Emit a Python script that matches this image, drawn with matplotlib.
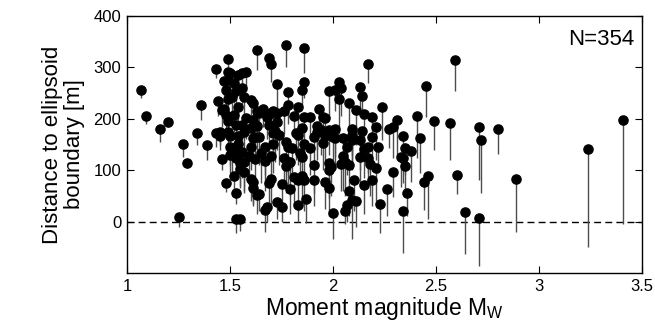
import matplotlib
matplotlib.use("Agg")
import matplotlib.pyplot as plt

plt.rcParams['font.family'] = ['Liberation Sans', 'DejaVu Sans']

# Moment magnitude, distance to ellipsoid boundary, lower end of each stem
mw = [1.07, 1.09, 1.16, 1.20, 1.25, 1.27, 1.29, 1.34, 1.36, 1.39, 1.43, 1.43, 1.44, 1.46, 1.48,
      1.49, 1.49, 1.53, 1.52, 1.53, 1.55, 1.63, 1.69, 1.70, 1.77, 1.86, 2.17, 1.73, 1.78, 1.85,
      1.86, 1.98, 2.01, 2.03, 2.04, 2.03, 2.08, 2.13, 2.14, 2.11, 2.24, 2.15, 2.19, 2.21, 2.27,
      2.00, 2.06, 2.07, 2.09, 2.11, 2.08, 2.10, 2.15, 2.19, 2.21, 2.23, 2.26, 2.18, 2.13, 2.08,
      2.05, 2.07, 2.13, 2.15, 2.17, 2.14, 2.09, 2.09, 2.01, 1.98, 2.01, 1.95, 1.93, 1.89, 1.86,
      1.81, 1.83, 1.78, 1.76, 1.71, 1.66, 1.63, 1.61, 1.60, 1.57, 1.56, 1.53, 1.47, 1.49, 1.52,
      1.54, 1.56, 1.58, 1.49, 1.47, 1.48, 1.52, 1.54, 1.49, 1.53, 1.56, 1.58, 1.61, 1.63, 1.60,
      1.57, 1.50, 1.54, 1.49, 1.54, 1.51, 1.54, 1.56, 1.60, 1.64, 1.61, 1.59, 1.53, 1.55, 1.57,
      1.62, 1.60, 1.61, 1.61, 1.63, 1.64, 1.67, 1.68, 1.67, 1.65, 1.67, 1.69, 1.70, 1.70, 1.71,
      1.71, 1.73, 1.69, 1.72, 1.74, 1.75, 1.73, 1.75, 1.77, 1.76, 1.77, 1.78, 1.79, 1.78, 1.80,
      1.79, 1.81, 1.83, 1.83, 1.85, 1.86, 1.87, 1.84, 1.85, 1.82, 1.85, 1.83, 1.86, 1.89, 1.91,
      1.91, 1.92, 1.92, 1.91, 1.95, 1.96, 1.96, 1.98, 1.98, 1.99, 1.98, 2.04, 2.06, 2.05, 2.00,
      1.94, 1.96, 2.19, 2.22, 2.17, 2.09, 1.64, 1.68, 1.62, 1.73, 1.70, 1.45, 1.45, 1.50, 1.50,
      1.55, 1.57, 1.46, 1.48, 1.51, 1.50,
      2.59, 2.45, 2.29, 2.31, 2.41, 2.49, 2.57, 2.71, 2.72, 2.80, 3.24, 3.41, 2.89, 2.64, 2.71,
      2.60, 2.34, 2.35, 2.38, 2.42, 2.33, 2.34, 2.35, 2.29, 2.36, 2.34, 2.44, 2.46]

dist = [256, 206, 180, 193, 9, 151, 114, 172, 227, 149, 297, 172, 235, 121, 75,
        317, 291, 56, 89, 5, 5, 334, 318, 307, 343, 338, 307, 268, 252, 257,
        272, 254, 257, 272, 260, 239, 230, 261, 245, 218, 222, 209, 204, 185, 181,
        16, 21, 33, 42, 40, 60, 81, 72, 81, 104, 34, 63, 113, 125, 111,
        128, 146, 159, 142, 146, 176, 181, 169, 181, 178, 163, 203, 219, 203, 203,
        205, 223, 227, 215, 215, 220, 215, 230, 237, 242, 259, 254, 273, 275, 269,
        285, 290, 291, 238, 220, 207, 207, 222, 196, 188, 188, 201, 198, 186, 182,
        175, 166, 166, 175, 151, 136, 134, 136, 146, 165, 162, 128, 124, 114, 116,
        122, 83, 77, 65, 52, 53, 23, 29, 146, 133, 118, 75, 83, 128, 151,
        173, 194, 188, 176, 169, 73, 38, 28, 155, 124, 108, 116, 116, 146, 143,
        63, 87, 32, 81, 89, 81, 44, 133, 126, 172, 182, 169, 151, 143, 110,
        81, 186, 174, 165, 153, 166, 77, 65, 114, 106, 100, 112, 116, 163, 165,
        178, 201, 165, 146, 124, 159, 211, 204, 165, 211, 211, 175, 166, 146, 130,
        102, 97, 217, 256, 243, 289,
        314, 264, 184, 198, 206, 196, 192, 184, 159, 180, 141, 197, 82, 18, 7,
        90, 166, 143, 138, 163, 125, 124, 108, 97, 55, 21, 77, 89]

lower = [240, 190, 155, 184, -11, 126, 104, 149, 198, 120, 279, 145, 205, 100, 58,
         301, 270, 35, 62, -23, -18, 295, 300, 272, 301, 289, 269, 215, 210, 225,
         240, 200, 215, 235, 205, 170, 180, 215, 200, 150, 159, 160, 150, 120, 143,
         -33, -5, 0, -33, -10, 10, 20, 15, 30, 40, -23, 10, 50, 70, 55,
         60, 90, 100, 85, 95, 120, 130, 105, 125, 130, 110, 150, 175, 160, 150,
         165, 180, 190, 170, 175, 185, 170, 195, 200, 200, 225, 215, 245, 240, 230,
         250, 260, 255, 200, 190, 170, 165, 180, 160, 140, 150, 160, 150, 140, 130,
         125, 120, 115, 140, 100, 95, 90, 85, 100, 110, 115, 80, 85, 70, 60,
         75, 40, 35, 30, 15, 20, -20, 0, 90, 75, 60, 20, 35, 70, 95,
         120, 140, 130, 115, 110, 25, 5, 0, 100, 70, 55, 60, 50, 90, 80,
         15, 35, 0, 30, 40, 20, -3, 80, 70, 120, 135, 110, 95, 90, 55,
         30, 140, 120, 105, 100, 110, 25, 10, 60, 50, 45, 60, 50, 110, 120,
         130, 150, 110, 95, 70, 100, 165, 160, 125, 165, 170, 150, 140, 110, 95,
         65, 55, 185, 220, 210, 260,
         255, 203, 124, 130, 123, 139, 120, 81, 55, 131, -49, -5, -20, -63, -86,
         53, 110, 90, 77, 94, 68, 75, 55, 48, 10, -62, 22, 6]

fig = plt.figure(figsize=(6.55, 3.3), dpi=100)
ax = fig.add_axes([127 / 655, 57 / 330, 515 / 655, 257 / 330])

ax.vlines(mw, lower, dist, colors='0.3', linewidth=1.0, zorder=2)
ax.plot(mw, dist, 'o', color='black', markersize=6.6, zorder=3)
ax.axhline(0, color='black', linestyle=(0, (5, 3)), linewidth=1.0, zorder=1)

ax.set_xlim(1, 3.5)
ax.set_ylim(-100, 400)
ax.set_xticks([1, 1.5, 2, 2.5, 3, 3.5])
ax.set_xticklabels(['1', '1.5', '2', '2.5', '3', '3.5'])
ax.set_yticks([0, 100, 200, 300, 400])
ax.tick_params(direction='in', top=True, right=True, length=5, labelsize=12, pad=4)
for s in ax.spines.values():
    s.set_linewidth(1.0)

ax.set_xlabel('Moment magnitude M$_\\mathregular{W}$', fontsize=16.5, labelpad=1)
ax.set_ylabel('Distance to ellipsoid\nboundary [m]', fontsize=16, labelpad=6, linespacing=1.05)
ax.text(0.985, 0.95, 'N=354', transform=ax.transAxes, ha='right', va='top', fontsize=16)

fig.savefig('out.png', dpi=100)
